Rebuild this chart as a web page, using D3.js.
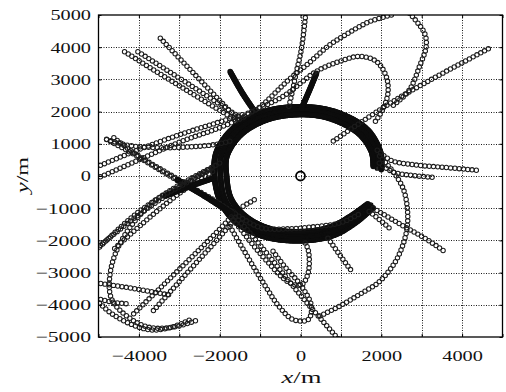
<!DOCTYPE html>
<html>
<head>
<meta charset="utf-8">
<script src="https://cdn.jsdelivr.net/npm/d3@7"></script>
<style>
  html, body { margin: 0; padding: 0; background: #fff; }
  text { font-family: "Liberation Serif", "DejaVu Serif", serif; fill: #111; }
</style>
</head>
<body>
<svg id="chart" width="506" height="392"></svg>
<script>
// axis values
var gridValues = [-5000, -4000, -3000, -2000, -1000, 0, 1000, 2000, 3000, 4000, 5000];
var xTickLabels = [-4000, -2000, 0, 2000, 4000];
var yTickLabels = [5000, 4000, 3000, 2000, 1000, 0, -1000, -2000, -3000, -4000, -5000];

// trajectories, waypoints in metres
var ringOuter = [[2000,200],[1990,700],[1650,1450],[850,2000],[0,2150],[-900,2000],[-1650,1500],[-2080,750],[-2130,0],[-1980,-800],[-1580,-1450],[-900,-1880],[0,-2010],[800,-1850],[1350,-1460],[1800,-980]];
var ringMid = [[1900,250],[1870,720],[1540,1400],[780,1900],[0,2030],[-850,1880],[-1560,1400],[-1950,680],[-1980,0],[-1860,-760],[-1480,-1350],[-830,-1760],[0,-1870],[760,-1720],[1280,-1370],[1740,-900]];
var ringInner = [[1800,300],[1760,740],[1440,1320],[720,1790],[0,1910],[-800,1760],[-1460,1300],[-1820,620],[-1830,0],[-1720,-700],[-1370,-1240],[-770,-1630],[0,-1730],[700,-1600],[1200,-1280],[1680,-850]];
var ringLower = [[-1700,-1100],[-1000,-1600],[-300,-1640],[300,-1580],[1000,-1450],[1500,-1150]];

var upLeft1 = [[-3470,4280],[-2500,3000],[-1550,1750]];
var upLeft2 = [[-4355,3860],[-3000,2800],[-1550,1700]];
var upLeft3 = [[-4025,3860],[-2700,2800],[-1450,1780]];
var upLeft4 = [[-1740,3240],[-1450,2600],[-1130,2000]];
var upMid1 = [[130,5050],[25,3960],[-100,3240],[-220,2520],[-300,2100]];
var upMid2 = [[395,3190],[200,2600],[25,2100]];
var arcTop = [[2250,5000],[1700,4790],[1200,4450],[700,4050],[200,3500],[-300,2980],[-1000,2150],[-1400,1850]];
var loopTop = [[-1300,1950],[-435,2470],[395,3250],[970,3560],[1465,3715],[1875,3560],[2120,3100],[2165,2580],[2035,2065],[1800,1600]];
var loopRightTop = [[2700,5050],[3070,4440],[3110,4020],[2945,3400],[2700,2680],[2400,2300],[2250,2150]];
var lineRight = [[4650,3950],[2400,2400],[750,1030]];
var flatRight1 = [[1900,800],[2250,480],[2800,350],[3640,260],[4430,170]];
var flatRight2 = [[1950,400],[2300,120],[2900,0],[3270,-40]];
var loopRight = [[1960,620],[2370,0],[2575,-515],[2655,-1340],[2575,-1980],[2330,-2700],[1915,-3320],[1590,-3580],[970,-4040],[475,-4350]];
var lowRight1 = [[1800,-1000],[2500,-1520],[3100,-1950],[3560,-2340]];
var lowRight2 = [[1700,-1100],[1950,-1350],[2200,-1620]];
var lowRight3 = [[680,-1930],[1000,-2500],[1300,-3010]];

var diagLeft1 = [[-4800,1130],[-4300,800],[-3100,-100],[-2100,-820],[-1600,-1300],[-900,-2300],[0,-3700],[950,-5080]];
var diagLeft2 = [[-4620,1190],[-4100,700],[-3100,-50],[-2100,-780],[-1650,-1150]];
var diagCore = [[-3050,-120],[-2350,-640],[-1700,-1170]];
var flatLeft = [[-4800,1140],[-4250,950],[-3500,880],[-2800,900],[-2100,980],[-1700,1100]];
var riseLeft1 = [[-5050,-80],[-4000,500],[-3000,1050],[-2000,1500],[-1350,1850]];
var riseLeft2 = [[-5050,280],[-4000,820],[-3000,1280],[-2000,1680],[-1400,1920]];
var riseLow1 = [[-5050,-2300],[-4135,-1240],[-3310,-515],[-2600,0],[-2100,330]];
var riseLow2 = [[-4950,-2150],[-4000,-1200],[-3000,-350],[-2150,250]];
var riseLow3 = [[-4600,-2250],[-3700,-1250],[-2900,-450],[-2120,180]];
var shortLeft = [[-3350,-620],[-2700,-300],[-2115,-50]];
var loopLeft = [[-2000,400],[-2850,-230],[-3680,-850],[-4420,-1980],[-4710,-3010],[-4670,-3840],[-4175,-4460],[-3680,-4715],[-3020,-4660],[-2530,-4460]];
var bottomLeft1 = [[-5050,-3850],[-4700,-4250],[-4200,-4600],[-3700,-4780],[-3200,-4700],[-2690,-4440]];
var bottomLeft2 = [[-5050,-3320],[-4200,-3480],[-3185,-3710]];
var bottomLeft3 = [[-5050,-3800],[-4600,-3930],[-4255,-3970]];
var riseBottom1 = [[-4130,-4280],[-3000,-2900],[-2000,-1650],[-1700,-1250]];
var riseBottom2 = [[-3640,-4180],[-2800,-3000],[-1900,-1750],[-1600,-1300]];
var loopLow1 = [[-1660,-1360],[-1000,-2400],[-265,-3320],[25,-3375],[190,-3010],[190,-2290],[65,-1980]];
var loopLow2 = [[-1745,-1570],[-920,-3320],[-500,-4100],[-180,-4460],[190,-4460],[270,-4040],[25,-3425],[-400,-2800],[-700,-2300]];
var stubLow = [[-1420,-940],[-1080,-690]];

var tracks = [ringOuter, ringMid, ringInner, ringLower, upLeft1, upLeft2, upLeft3, upLeft4, upMid1, upMid2,
  arcTop, loopTop, loopRightTop, lineRight, flatRight1, flatRight2, loopRight, lowRight1, lowRight2, lowRight3,
  diagLeft1, diagLeft2, diagCore, flatLeft, riseLeft1, riseLeft2, riseLow1, riseLow2, riseLow3, shortLeft, loopLeft,
  bottomLeft1, bottomLeft2, bottomLeft3, riseBottom1, riseBottom2, loopLow1, loopLow2, stubLow];
// tracks drawn with tightly packed markers
var denseTracks = [ringOuter, ringMid, ringInner, upLeft4, upMid2, shortLeft, diagCore];

var width = 506, height = 392;
var svg = d3.select('#chart');
svg.append('rect').attr('width', width).attr('height', height).attr('fill', '#fff');

var x = d3.scaleLinear().domain([-5000, 5000]).range([98.5, 502.5]);
var y = d3.scaleLinear().domain([-5000, 5000]).range([337, 15]);

svg.append('clipPath').attr('id', 'plotclip')
  .append('rect').attr('x', 98.5).attr('y', 15).attr('width', 404).attr('height', 322);

// dotted grid
var grid = svg.append('g').attr('stroke', '#000').attr('stroke-width', 0.9).attr('stroke-dasharray', '1,1.5');
grid.selectAll('.gx').data(gridValues.slice(1, -1)).enter().append('line')
  .attr('x1', function (d) { return Math.round(x(d)) + 0.5; }).attr('x2', function (d) { return Math.round(x(d)) + 0.5; })
  .attr('y1', y(5000)).attr('y2', y(-5000));
grid.selectAll('.gy').data(gridValues.slice(1, -1)).enter().append('line')
  .attr('y1', function (d) { return Math.round(y(d)) + 0.5; }).attr('y2', function (d) { return Math.round(y(d)) + 0.5; })
  .attr('x1', x(-5000)).attr('x2', x(5000));

// trajectories
var line = d3.line().x(function (d) { return x(d[0]); }).y(function (d) { return y(d[1]); })
  .curve(d3.curveCatmullRom.alpha(0.5));
var marks = svg.append('g').attr('clip-path', 'url(#plotclip)');
tracks.forEach(function (pts) {
  var dense = denseTracks.indexOf(pts) >= 0;
  var path = marks.append('path').attr('d', line(pts)).attr('fill', 'none').attr('stroke', 'none');
  var node = path.node();
  var len = node.getTotalLength();
  var step = dense ? 1.0 : 4.3;
  var dots = [];
  for (var s = 0; s <= len; s += step) {
    dots.push(node.getPointAtLength(s));
  }
  marks.append('g').selectAll('circle').data(dots).enter().append('circle')
    .attr('cx', function (p) { return p.x; })
    .attr('cy', function (p) { return p.y; })
    .attr('r', 2.2)
    .attr('fill', 'none')
    .attr('stroke', dense ? '#0d0d0d' : '#1c1c1c')
    .attr('stroke-width', dense ? 1.3 : 1.05);
});

// origin marker
svg.append('circle').attr('cx', x(0)).attr('cy', y(0)).attr('r', 4.5)
  .attr('fill', 'none').attr('stroke', '#000').attr('stroke-width', 1.8);

// axes
var fmt = function (d) { return d < 0 ? '\u2212' + Math.abs(d) : '' + d; };
var labelWidth = function (s) { return s.replace('\u2212', '').length * 10.15 + (s.indexOf('\u2212') === 0 ? 15 : 0); };

var gx = svg.append('g').attr('transform', 'translate(0,' + y(-5000) + ')')
  .call(d3.axisBottom(x).tickValues(gridValues).tickSizeInner(-3).tickSizeOuter(0).tickPadding(13)
    .tickFormat(function (d) { return xTickLabels.indexOf(d) >= 0 ? fmt(d) : ''; }));
var gy = svg.append('g').attr('transform', 'translate(' + x(-5000) + ',0)')
  .call(d3.axisLeft(y).tickValues(yTickLabels).tickSizeInner(-3).tickSizeOuter(0).tickPadding(7.5)
    .tickFormat(fmt));
svg.append('g').attr('transform', 'translate(0,' + y(5000) + ')')
  .call(d3.axisTop(x).tickValues(gridValues).tickSizeInner(-3).tickSizeOuter(0).tickFormat(''));
svg.append('g').attr('transform', 'translate(' + x(5000) + ',0)')
  .call(d3.axisRight(y).tickValues(yTickLabels).tickSizeInner(-3).tickSizeOuter(0).tickFormat(''));

svg.selectAll('.domain').remove();
svg.selectAll('.tick line').attr('stroke', '#000').attr('stroke-width', 1);
[gx, gy].forEach(function (g) {
  g.selectAll('text')
    .attr('font-family', '"Liberation Serif", "DejaVu Serif", serif')
    .attr('font-size', 15)
    .attr('fill', '#111')
    .each(function () {
      var t = d3.select(this).text();
      if (t) d3.select(this).attr('textLength', labelWidth(t)).attr('lengthAdjust', 'spacingAndGlyphs');
    });
});

// frame
svg.append('rect').attr('x', x(-5000)).attr('y', y(5000))
  .attr('width', x(5000) - x(-5000)).attr('height', y(-5000) - y(5000))
  .attr('fill', 'none').attr('stroke', '#000').attr('stroke-width', 1.3);

// axis titles
var xt = svg.append('text').attr('x', 301.5).attr('y', 383).attr('text-anchor', 'middle')
  .attr('font-size', 17).attr('textLength', 40).attr('lengthAdjust', 'spacingAndGlyphs');
xt.append('tspan').attr('font-style', 'italic').text('x');
xt.append('tspan').text('/m');

var yt = svg.append('text').attr('transform', 'translate(28,175) rotate(-90)').attr('text-anchor', 'middle')
  .attr('font-size', 17).attr('textLength', 36).attr('lengthAdjust', 'spacingAndGlyphs');
yt.append('tspan').attr('font-style', 'italic').text('y');
yt.append('tspan').text('/m');
</script>
</body>
</html>
